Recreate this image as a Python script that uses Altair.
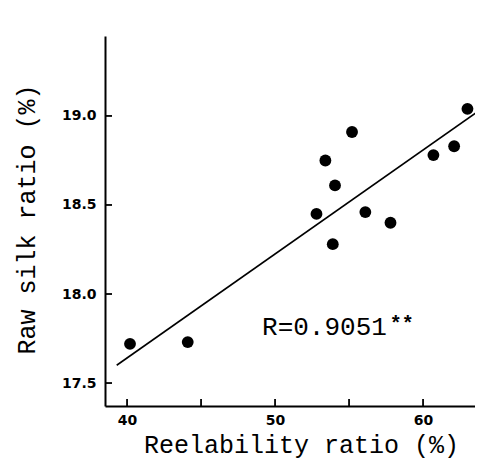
import altair as alt
import pandas as pd

# Data
reelability = [40.2, 44.1, 52.8, 53.4, 54.05, 53.9, 55.2, 56.1, 57.8, 60.7, 62.1, 63.0]
raw_silk = [17.72, 17.73, 18.45, 18.75, 18.61, 18.28, 18.91, 18.46, 18.40, 18.78, 18.83, 19.04]

fit_x = [39.3, 64.6]
fit_y = [17.60, 19.077]

x_ticks = [40, 45, 50, 55, 60]
x_labels = [40, 50, 60]
y_ticks = [17.5, 18.0, 18.5, 19.0]

annotation = "R=0.9051"
stars = "**"

X_DOMAIN = [38.51, 63.51]
Y_DOMAIN = [17.371, 19.449]
W, H = 370, 370

pts = pd.DataFrame({"x": reelability, "y": raw_silk})
fit = pd.DataFrame({"x": fit_x, "y": fit_y})
xt = pd.DataFrame({"x": x_ticks})
yt = pd.DataFrame({"y": y_ticks})

xs = alt.Scale(domain=X_DOMAIN, nice=False, zero=False)
ys = alt.Scale(domain=Y_DOMAIN, nice=False, zero=False)

x_axis = alt.Axis(
    values=x_labels, ticks=False, grid=False, domainColor="black", domainWidth=2,
    labelFont="DejaVu Sans", labelFontWeight="bold", labelFontSize=14, labelColor="black",
    labelPadding=7, title="Reelability ratio (%)", titleFont="Liberation Mono",
    titleFontSize=25, titleFontWeight="normal", titleColor="black",
    titleX=196, titleY=46, titleAlign="center", titleBaseline="alphabetic",
)
y_axis = alt.Axis(
    values=y_ticks, format=".1f", ticks=False, grid=False, domainColor="black", domainWidth=2,
    labelFont="DejaVu Sans", labelFontWeight="bold", labelFontSize=14, labelColor="black",
    labelPadding=9, title="Raw silk ratio (%)", titleFont="Liberation Mono",
    titleFontSize=25, titleFontWeight="normal", titleColor="black",
    titleX=-71, titleY=183, titleAlign="center", titleBaseline="alphabetic", titleAngle=-90,
)

scatter = alt.Chart(pts).mark_circle(size=140, color="black", opacity=1).encode(
    x=alt.X("x:Q", scale=xs, axis=x_axis),
    y=alt.Y("y:Q", scale=ys, axis=y_axis),
)

line = alt.Chart(fit).mark_line(color="black", strokeWidth=1.6, clip=True).encode(
    x=alt.X("x:Q", scale=xs),
    y=alt.Y("y:Q", scale=ys),
)

xtick = alt.Chart(xt).mark_rule(color="black", strokeWidth=1.8).encode(
    x=alt.X("x:Q", scale=xs),
    y=alt.value(H), y2=alt.value(H - 7),
)
ytick = alt.Chart(yt).mark_rule(color="black", strokeWidth=1.8).encode(
    y=alt.Y("y:Q", scale=ys),
    x=alt.value(0), x2=alt.value(7),
)

txt = alt.Chart(pd.DataFrame({"x": [49.12], "y": [17.77], "t": [annotation]})).mark_text(
    font="Liberation Mono", fontSize=26, align="left", baseline="alphabetic", color="black"
).encode(x=alt.X("x:Q", scale=xs), y=alt.Y("y:Q", scale=ys), text="t:N")

star = alt.Chart(pd.DataFrame({"x": [57.75], "y": [17.80], "t": [stars]})).mark_text(
    font="Liberation Mono", fontSize=20, fontWeight="bold", align="left", baseline="alphabetic", color="black"
).encode(x=alt.X("x:Q", scale=xs), y=alt.Y("y:Q", scale=ys), text="t:N")

chart = alt.layer(scatter, line, xtick, ytick, txt, star).properties(
    width=W, height=H,
    autosize=alt.AutoSizeParams(type="none"),
    padding={"left": 97, "top": 28, "right": 0, "bottom": 54},
    background="white",
).configure_view(stroke=None)

chart.save("out.html", embed_options={"renderer": "svg", "actions": False})
